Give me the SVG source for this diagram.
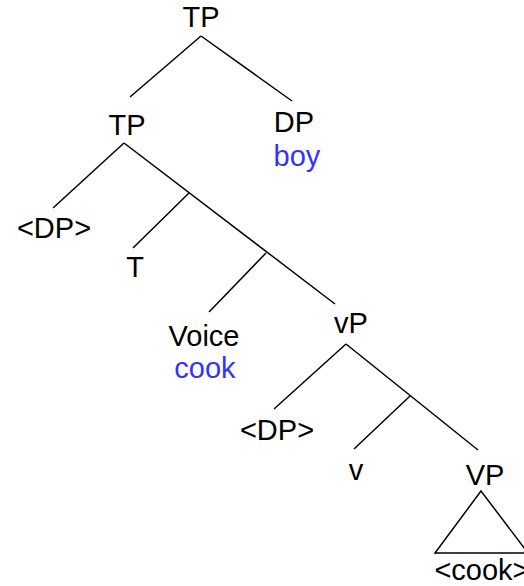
<svg xmlns="http://www.w3.org/2000/svg" width="524" height="586" viewBox="0 0 524 586">
<style>
text{font-family:"Liberation Sans",Arial,sans-serif;font-size:29px;text-anchor:middle;fill:#000}
.g{fill:#3333ff}
.e{stroke:#000;stroke-width:1.5;fill:none}
</style>
<rect width="524" height="586" fill="#fff"/>
<g id="connectors">
<line class="e" x1="201" y1="36" x2="130" y2="97"/>
<line class="e" x1="201" y1="36" x2="292" y2="101"/>
<line class="e" x1="124" y1="143" x2="53" y2="208"/>
<line class="e" x1="124" y1="143" x2="335" y2="304"/>
<line class="e" x1="189" y1="193" x2="133" y2="248"/>
<line class="e" x1="266" y1="253" x2="209" y2="312"/>
<line class="e" x1="346" y1="344" x2="274" y2="409"/>
<line class="e" x1="346" y1="344" x2="478" y2="450"/>
<line class="e" x1="410" y1="396" x2="354" y2="449"/>
<polygon class="e" points="481,491 435,553 528,553"/>
</g>
<g id="tp-root"><text x="201" y="27">TP</text></g>
<g id="tp"><text x="127" y="135">TP</text></g>
<g id="dp"><text x="294" y="132">DP</text><text class="g" x="297" y="166">boy</text></g>
<g id="dp-trace1"><text x="54" y="238">&lt;DP&gt;</text></g>
<g id="t"><text x="135" y="277">T</text></g>
<g id="voice"><text x="204" y="346">Voice</text><text class="g" x="205" y="378">cook</text></g>
<g id="vp-small"><text x="351" y="333">vP</text></g>
<g id="dp-trace2"><text x="277" y="440">&lt;DP&gt;</text></g>
<g id="v"><text x="356" y="480">v</text></g>
<g id="vp"><text x="485" y="485">VP</text></g>
<g id="cook-trace"><text x="482" y="580">&lt;cook&gt;</text></g>
</svg>
